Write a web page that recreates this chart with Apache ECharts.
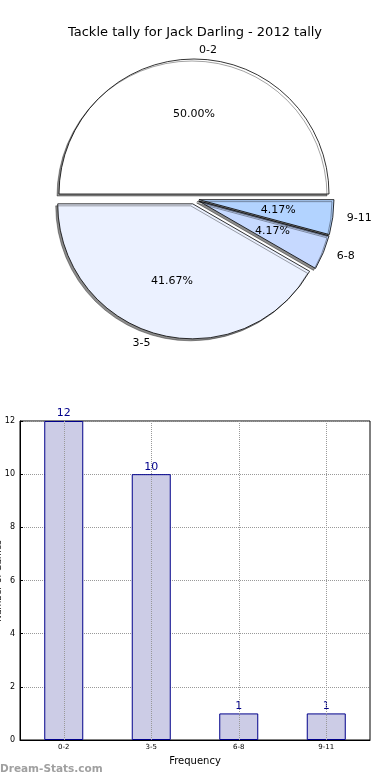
<!DOCTYPE html>
<html><head><meta charset="utf-8">
<script src="https://cdn.jsdelivr.net/npm/echarts@6/dist/echarts.min.js"></script>
<style>html,body{margin:0;padding:0;background:#fff}#c{width:390px;height:780px}</style>
</head><body><div id="c"></div>
<script>
var categories = ['0-2', '3-5', '6-8', '9-11'];
var counts = [12, 10, 1, 1];
var sliceColors = ['#ffffff', '#ebf1ff', '#c6d9ff', '#b2d3ff'];
var yTicks = [0, 2, 4, 6, 8, 10, 12];
var titleText = 'Tackle tally for Jack Darling - 2012 tally';
var xName = 'Frequency';
var yName = 'Number of Games';

var total = counts.reduce(function(a, b){ return a + b; }, 0);
var F = 'DejaVu Sans';
var R = 135;
var pieData = categories.map(function(c, i){
  return { name: c, value: counts[i], selected: true, itemStyle: { color: sliceColors[i] } };
});
var pieDataT = categories.map(function(c, i){
  return { name: c, value: counts[i], selected: true };
});

var chart = echarts.init(document.getElementById('c'), null, {renderer: 'canvas'});
chart.setOption({
  animation: false,
  title: { text: titleText, left: 'center', top: 21, textStyle: { fontFamily: F, fontSize: 13, fontWeight: 'normal', color: '#000' } },
  graphic: [
    { type: 'text', left: 0, top: 764, style: { text: 'Dream-Stats.com', fontFamily: F, fontSize: 10.5, fontWeight: 'bold', fill: '#a0a0a0' } },
    { type: 'text', x: -1, y: 581, rotation: Math.PI / 2, style: { text: yName, fontFamily: F, fontSize: 9, fill: '#000', align: 'center', verticalAlign: 'middle' } }
  ],
  grid: { left: 20, right: 20, top: 421, bottom: 40, show: true, borderColor: '#000', borderWidth: 1, containLabel: false, outerBoundsMode: 'none' },
  xAxis: {
    type: 'category', data: categories, name: xName, nameLocation: 'middle', nameGap: 16,
    nameTextStyle: { fontFamily: F, fontSize: 10, color: '#000' },
    axisLine: { lineStyle: { color: '#000' } },
    axisTick: { show: false },
    axisLabel: { fontFamily: F, fontSize: 7, color: '#000', margin: 4 },
    splitLine: { show: false }
  },
  yAxis: {
    type: 'value', min: 0, max: 12, interval: 2,
    axisLine: { show: true, lineStyle: { color: '#000' } },
    axisTick: { show: true, inside: true, length: 3, lineStyle: { color: '#000' } },
    axisLabel: { fontFamily: F, fontSize: 8, color: '#000', margin: 5,
      formatter: function(v){ return yTicks.indexOf(v) >= 0 ? String(v) : ''; } },
    splitLine: { show: true, lineStyle: { type: 'dotted', color: '#999' } }
  },
  series: [
    {
      type: 'pie', center: [194, 199], radius: [0, R], startAngle: 0, clockwise: false,
      selectedMode: 'multiple', selectedOffset: 5, avoidLabelOverlap: false, silent: true,
      data: pieData,
      itemStyle: { borderColor: '#000', borderWidth: 0.8, shadowColor: 'rgba(0,0,0,0.45)', shadowBlur: 0, shadowOffsetX: -2, shadowOffsetY: 2 },
      label: { show: true, position: 'outside', fontFamily: F, fontSize: 11, color: '#000', formatter: '{b}' },
      labelLine: { show: false, length: 9, length2: 0 },
      emphasis: { disabled: true }
    },
    {
      type: 'pie', center: [194, 199], radius: [0, R * 1.14], startAngle: 0, clockwise: false,
      selectedMode: 'multiple', selectedOffset: 5, avoidLabelOverlap: false, silent: true,
      data: pieDataT,
      itemStyle: { color: 'rgba(0,0,0,0)', borderWidth: 0 },
      label: { show: true, position: 'inside', fontFamily: F, fontSize: 11, color: '#000',
        formatter: function(p){ return (p.value / total * 100).toFixed(2) + '%'; } },
      labelLine: { show: false },
      emphasis: { disabled: true }
    },
    {
      type: 'bar', data: counts, barWidth: 39,
      itemStyle: { color: '#ccccE6', borderColor: '#00008b', borderWidth: 1 },
      label: { show: true, position: 'top', distance: 2, fontFamily: F, fontSize: 11, color: '#00008b' },
      markLine: {
        silent: true, symbol: 'none', label: { show: false },
        lineStyle: { type: 'dotted', color: '#999', width: 1 },
        data: categories.map(function(c){ return { xAxis: c }; })
      }
    }
  ]
});
</script></body></html>
